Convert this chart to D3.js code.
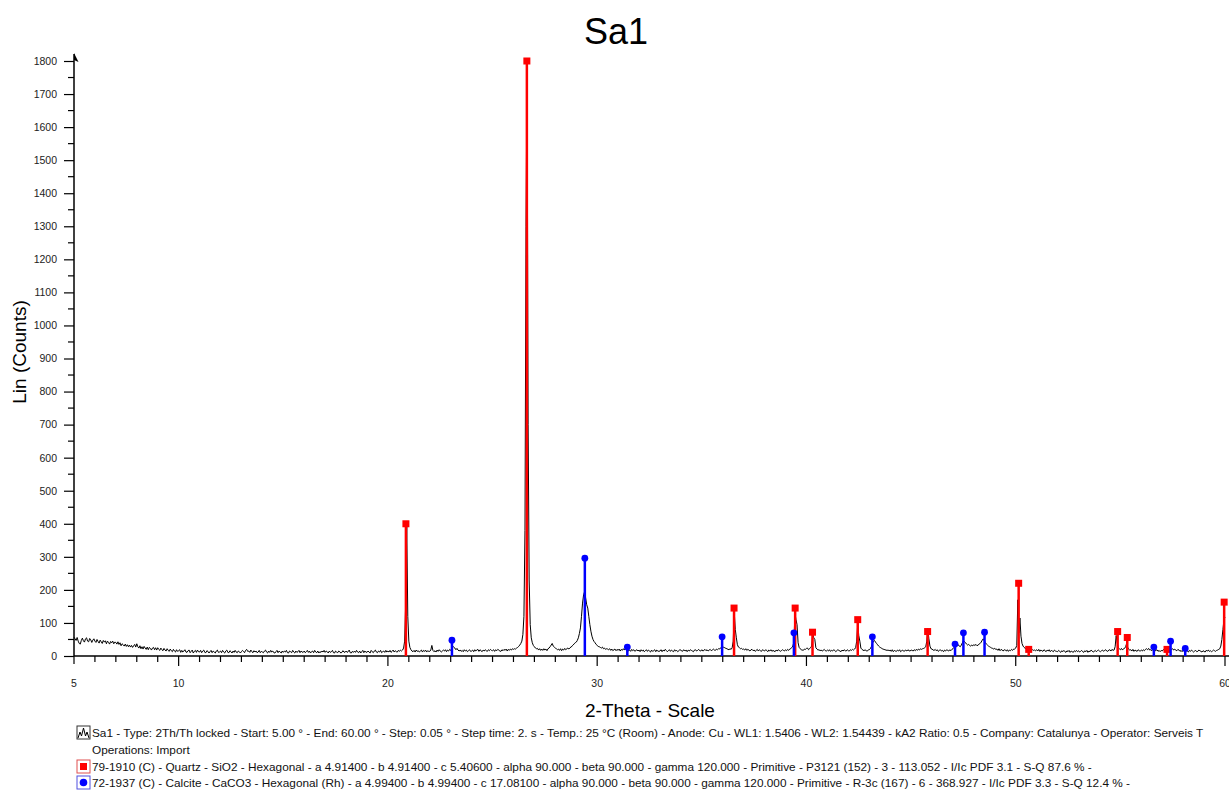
<!DOCTYPE html>
<html>
<head>
<meta charset="utf-8">
<script src="https://cdn.jsdelivr.net/npm/d3@7"></script>
<style>
  html, body { margin: 0; padding: 0; background: #fff; }
  svg { display: block; font-family: "Liberation Sans", Arial, sans-serif; }
</style>
</head>
<body>
<svg id="chart" width="1229" height="792"></svg>
<script>
// ---------------- DATA ----------------
const chartTitle = "Sa1";
const xAxisTitle = "2-Theta - Scale";
const yAxisTitle = "Lin (Counts)";
const scanStart = 5.0;   // degrees 2-theta
const scanStep = 0.05;   // degrees 2-theta
// measured counts, one row per degree (20 steps of 0.05°)
const counts = [
  /* 5 */ 57,52,47,56,45,38,36,47,54,46,42,52,55,45,43,53,49,41,48,52,
  /* 6 */ 45,41,50,44,39,48,43,38,47,42,46,37,45,41,36,44,40,45,37,42,
  /* 7 */ 41,36,43,35,40,31,37,34,30,36,29,34,28,33,27,32,26,31,35,27,
  /* 8 */ 37,28,24,31,22,28,21,29,24,20,27,19,26,23,18,24,26,19,25,18,
  /* 9 */ 25,20,17,24,19,16,23,18,15,22,17,14,21,16,13,20,15,12,19,14,
  /*10 */ 16,19,11,17,12,15,19,12,11,16,18,10,14,18,9,14,17,11,18,13,
  /*11 */ 12,17,10,15,18,11,10,16,14,9,13,17,10,15,12,9,15,18,11,12,
  /*12 */ 15,10,17,12,9,15,18,11,10,16,13,9,15,11,17,12,10,15,13,9,
  /*13 */ 13,17,14,10,17,20,14,15,11,18,13,10,16,12,15,10,12,17,10,14,
  /*14 */ 12,10,15,18,12,9,15,11,17,12,15,10,9,13,17,10,15,12,9,15,
  /*15 */ 11,15,12,17,10,9,15,13,10,17,12,9,15,11,13,17,10,15,12,11,
  /*16 */ 15,10,13,17,11,15,9,13,15,10,17,12,10,15,9,13,11,15,12,17,
  /*17 */ 11,15,13,9,15,11,13,17,10,9,15,12,10,15,13,9,11,16,12,11,
  /*18 */ 15,11,13,18,10,9,14,11,15,11,17,12,10,15,9,13,17,10,15,12,
  /*19 */ 11,15,12,9,17,13,10,15,18,12,10,15,12,17,10,13,15,11,17,12,
  /*20 */ 15,12,17,11,14,18,12,16,13,12,17,14,18,15,18,24,45,160,395,120,
  /*21 */ 45,26,19,15,13,17,12,18,14,16,12,15,18,12,17,14,18,12,16,14,
  /*22 */ 14,18,32,17,13,16,12,18,14,19,15,12,15,18,15,19,13,18,15,20,
  /*23 */ 17,22,30,26,24,19,23,18,15,18,14,17,13,19,15,18,13,16,19,14,
  /*24 */ 15,18,13,19,15,18,20,14,19,16,13,18,15,19,16,14,19,16,20,17,
  /*25 */ 16,19,14,19,16,20,18,15,14,19,16,20,17,21,15,20,17,21,18,22,
  /*26 */ 20,22,21,24,26,29,33,38,45,65,120,380,1300,1800,700,230,95,55,40,32,
  /*27 */ 28,24,22,23,18,22,17,21,17,22,18,21,16,22,24,28,33,38,30,27,
  /*28 */ 24,22,19,21,17,22,16,21,18,23,19,22,24,21,25,27,30,33,37,40,
  /*29 */ 42,47,55,68,85,120,160,185,195,175,155,145,120,95,75,60,50,44,40,35,
  /*30 */ 32,29,28,26,24,27,22,24,20,22,21,19,22,17,21,16,19,21,16,20,
  /*31 */ 17,21,15,20,17,22,18,23,19,20,15,18,14,20,16,19,14,17,19,15,
  /*32 */ 18,13,19,15,18,13,16,19,14,18,15,12,18,14,16,19,13,18,15,14,
  /*33 */ 15,19,13,18,15,20,17,13,16,19,14,18,15,13,19,15,17,13,16,19,
  /*34 */ 18,14,16,19,15,18,13,18,15,19,17,15,13,18,19,15,17,20,16,15,
  /*35 */ 19,15,17,20,16,19,15,18,20,16,18,21,18,17,21,19,22,21,25,26,
  /*36 */ 28,26,25,23,22,20,19,22,20,25,45,132,80,55,34,27,25,22,23,20,
  /*37 */ 21,18,22,17,20,18,15,19,20,16,18,14,17,20,15,19,16,14,19,17,
  /*38 */ 15,19,17,13,18,15,19,14,17,15,13,18,15,19,17,14,16,19,17,15,
  /*39 */ 19,16,20,17,21,22,26,30,42,129,110,95,40,26,22,19,18,17,21,20,
  /*40 */ 23,24,19,22,26,30,69,55,50,25,21,18,19,16,18,15,17,20,16,15,
  /*41 */ 18,15,19,14,17,15,19,17,13,16,19,17,15,13,18,15,19,16,15,19,
  /*42 */ 16,15,19,17,20,18,21,25,45,97,62,45,24,20,18,16,19,16,15,18,
  /*43 */ 19,22,28,38,45,47,42,38,34,30,27,25,23,21,20,19,18,17,18,16,
  /*44 */ 18,14,19,13,17,15,14,18,15,19,13,16,18,14,16,18,15,19,16,15,
  /*45 */ 18,17,15,19,16,20,17,21,18,22,20,22,23,25,28,45,83,52,30,22,
  /*46 */ 21,18,17,20,16,19,14,17,19,15,17,13,18,15,19,17,15,19,16,20,
  /*47 */ 22,26,32,35,38,34,30,28,33,40,47,44,40,36,33,35,32,30,33,31,
  /*48 */ 34,32,35,31,33,36,38,42,48,52,46,40,36,33,30,28,26,24,23,21,
  /*49 */ 23,20,21,17,22,16,20,18,15,19,18,15,19,14,18,16,20,17,21,21,
  /*50 */ 24,32,170,70,115,60,38,30,26,23,22,20,21,19,20,18,19,17,18,16,
  /*51 */ 19,15,20,14,18,16,14,19,16,13,18,15,19,13,17,15,13,18,15,14,
  /*52 */ 13,17,14,11,16,13,17,13,11,16,13,17,11,15,13,11,16,13,17,13,
  /*53 */ 16,12,14,17,13,11,16,13,17,11,15,13,18,15,12,14,17,13,16,18,
  /*54 */ 15,13,16,18,14,17,19,15,14,18,19,15,20,17,18,28,62,40,25,22,
  /*55 */ 19,23,18,22,23,28,38,26,20,18,19,15,20,14,18,16,14,19,16,15,
  /*56 */ 18,15,19,16,20,22,19,23,18,19,16,20,18,15,17,19,14,17,13,17,
  /*57 */ 15,19,20,22,25,28,26,24,21,20,22,18,21,17,16,20,18,14,17,13,
  /*58 */ 18,15,13,18,15,12,17,14,18,15,12,15,17,13,14,18,16,14,12,16,
  /*59 */ 14,12,17,15,18,14,16,13,15,18,16,14,17,18,20,22,30,50,80,110,
  /*60 */ 118
];

// Reference pattern sticks
const quartzPos = [20.86, 26.64, 36.54, 39.46, 40.29, 42.45, 45.79, 50.14, 50.62, 54.87, 55.33, 57.23, 59.96];
const quartzInt = [400, 1800, 145, 145, 72, 110, 74, 220, 20, 74, 56, 20, 163];
const calcitePos = [23.06, 29.41, 31.44, 35.97, 39.40, 43.15, 47.10, 47.50, 48.51, 56.60, 57.40, 58.10];
const calciteInt = [48, 296, 27, 58, 70, 58, 36, 70, 72, 27, 45, 23];

const yTicks = [0,100,200,300,400,500,600,700,800,900,1000,1100,1200,1300,1400,1500,1600,1700,1800];
const xTickLabels = [5, 10, 20, 30, 40, 50, 60];

const legendLines = [
  "Sa1 - Type: 2Th/Th locked - Start: 5.00 ° - End: 60.00 ° - Step: 0.05 ° - Step time: 2. s - Temp.: 25 °C (Room) - Anode: Cu - WL1: 1.5406 - WL2: 1.54439 - kA2 Ratio: 0.5 - Company: Catalunya - Operator: Serveis T",
  "Operations: Import",
  "79-1910 (C) - Quartz - SiO2 - Hexagonal - a 4.91400 - b 4.91400 - c 5.40600 - alpha 90.000 - beta 90.000 - gamma 120.000 - Primitive - P3121 (152) - 3 - 113.052 - I/Ic PDF 3.1 - S-Q 87.6 % -",
  "72-1937 (C) - Calcite - CaCO3 - Hexagonal (Rh) - a 4.99400 - b 4.99400 - c 17.08100 - alpha 90.000 - beta 90.000 - gamma 120.000 - Primitive - R-3c (167) - 6 - 368.927 - I/Ic PDF 3.3 - S-Q 12.4 % -"
];
const legendKinds = ["scan", "none", "quartz", "calcite"];

// ---------------- DRAWING ----------------
const svg = d3.select("#chart");
const x = d3.scaleLinear().domain([5, 60]).range([74, 1225]);
const y = d3.scaleLinear().domain([0, 1800]).range([656, 61]);

const profile = counts.map((c, i) => ({ t: scanStart + i * scanStep, c }));
const quartz = quartzPos.map((p, i) => ({ p, v: quartzInt[i] }));
const calcite = calcitePos.map((p, i) => ({ p, v: calciteInt[i] }));

const RED = "#ff0000", BLUE = "#0000ff";

// Title
svg.append("text").attr("x", 616).attr("y", 44).attr("text-anchor", "middle")
  .attr("font-size", 36).text(chartTitle);

// Y axis
const yAxis = d3.axisLeft(y).tickValues(yTicks).tickSize(10).tickPadding(7).tickFormat(d3.format("d"));
const gy = svg.append("g").attr("transform", "translate(74,0)").call(yAxis);
gy.select(".domain").remove();
gy.selectAll(".tick line").attr("stroke", "#000").attr("stroke-width", 1.2);
gy.selectAll(".tick text").attr("font-size", 10.5).attr("font-family", "Liberation Sans, Arial, sans-serif").attr("fill", "#222");
// minor y ticks
const yMinor = d3.range(50, 1800, 100);
svg.append("g").selectAll("line").data(yMinor).join("line")
  .attr("x1", 68).attr("x2", 74).attr("y1", d => y(d)).attr("y2", d => y(d))
  .attr("stroke", "#000").attr("stroke-width", 1.2);
// y axis line with arrow
svg.append("line").attr("x1", 74).attr("x2", 74).attr("y1", y(0)).attr("y2", 54)
  .attr("stroke", "#000").attr("stroke-width", 1.5);
svg.append("path").attr("d", "M74,53 L78.5,62 L74,60 Z").attr("fill", "#000");

// X axis
const gx = svg.append("g").attr("transform", `translate(0,${y(0)})`);
gx.append("line").attr("x1", 74).attr("x2", 1229).attr("y1", 0).attr("y2", 0)
  .attr("stroke", "#000").attr("stroke-width", 1.5);
const xMinor = d3.range(6, 61, 1).filter(d => d % 10 !== 0);
gx.selectAll("line.minor").data(xMinor).join("line").attr("class", "minor")
  .attr("x1", d => x(d)).attr("x2", d => x(d)).attr("y1", 0).attr("y2", 6)
  .attr("stroke", "#000").attr("stroke-width", 1.2);
gx.selectAll("line.major").data(xTickLabels).join("line").attr("class", "major")
  .attr("x1", d => x(d)).attr("x2", d => x(d)).attr("y1", 0).attr("y2", d => d === 5 ? 8 : 10)
  .attr("stroke", "#000").attr("stroke-width", 1.2);
gx.selectAll("text").data(xTickLabels).join("text")
  .attr("x", d => x(d)).attr("y", 31).attr("text-anchor", "middle")
  .attr("font-size", 10.5).attr("fill", "#222").text(d => d);

// Axis titles
svg.append("text").attr("transform", "translate(26,352) rotate(-90)").attr("text-anchor", "middle")
  .attr("font-size", 19).text(yAxisTitle);
svg.append("text").attr("x", 650).attr("y", 717).attr("text-anchor", "middle")
  .attr("font-size", 19).text(xAxisTitle);

// Profile
const line = d3.line().x(d => x(d.t)).y(d => y(d.c));
svg.append("path").datum(profile).attr("d", line)
  .attr("fill", "none").attr("stroke", "#000").attr("stroke-width", 1).attr("stroke-linejoin", "round");

// Sticks
svg.append("g").selectAll("line").data(quartz).join("line")
  .attr("x1", d => x(d.p)).attr("x2", d => x(d.p)).attr("y1", d => y(d.v)).attr("y2", y(0))
  .attr("stroke", RED).attr("stroke-width", 2.5);
svg.append("g").selectAll("rect").data(quartz).join("rect")
  .attr("x", d => x(d.p) - 3.5).attr("y", d => y(d.v) - 3.5).attr("width", 7).attr("height", 7)
  .attr("fill", RED);
svg.append("g").selectAll("line").data(calcite).join("line")
  .attr("x1", d => x(d.p)).attr("x2", d => x(d.p)).attr("y1", d => y(d.v)).attr("y2", y(0))
  .attr("stroke", BLUE).attr("stroke-width", 2.5);
svg.append("g").selectAll("circle").data(calcite).join("circle")
  .attr("cx", d => x(d.p)).attr("cy", d => y(d.v)).attr("r", 3.4)
  .attr("fill", BLUE);

// Legend
const legendY = [737, 754, 771, 787];
const lg = svg.append("g");
legendLines.forEach((txt, i) => {
  lg.append("text").attr("x", 92).attr("y", legendY[i]).attr("font-size", 11.8).attr("fill", "#111").text(txt);
  const k = legendKinds[i];
  const bx = 77, by = legendY[i] - 11;
  if (k === "scan") {
    lg.append("rect").attr("x", bx).attr("y", by).attr("width", 13).attr("height", 13)
      .attr("fill", "#fff").attr("stroke", "#333").attr("stroke-width", 1);
    lg.append("path").attr("d", `M${bx+1},${by+12} L${bx+3},${by+6} L${bx+4.5},${by+10} L${bx+6.5},${by+2} L${bx+8.5},${by+10} L${bx+10},${by+6} L${bx+12},${by+12}`)
      .attr("fill", "none").attr("stroke", "#000").attr("stroke-width", 1);
  } else if (k === "quartz") {
    lg.append("rect").attr("x", bx).attr("y", by).attr("width", 13).attr("height", 13)
      .attr("fill", "#fff").attr("stroke", "#e05050").attr("stroke-width", 1);
    lg.append("rect").attr("x", bx + 3).attr("y", by + 3).attr("width", 7).attr("height", 7).attr("fill", RED);
  } else if (k === "calcite") {
    lg.append("rect").attr("x", bx).attr("y", by).attr("width", 13).attr("height", 13)
      .attr("fill", "#fff").attr("stroke", "#5050e0").attr("stroke-width", 1);
    lg.append("circle").attr("cx", bx + 6.5).attr("cy", by + 6.5).attr("r", 3.8).attr("fill", BLUE);
  }
});
</script>
</body>
</html>
